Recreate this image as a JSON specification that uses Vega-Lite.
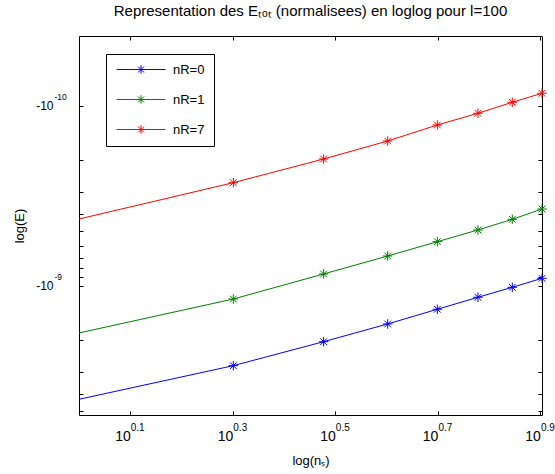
{
  "$schema": "https://vega.github.io/schema/vega-lite/v6.json",
  "width": 463,
  "height": 379,
  "autosize": {"type": "none"},
  "padding": {"left": 79, "top": 36, "right": 13, "bottom": 59},
  "background": "white",
  "title": {
    "text": "Representation des Eₜₒₜ (normalisees) en loglog pour l=100",
    "font": "Liberation Sans",
    "fontSize": 15,
    "fontWeight": "normal",
    "color": "black",
    "anchor": "middle",
    "baseline": "alphabetic",
    "offset": 5
  },
  "config": {
    "view": {"stroke": "black", "strokeWidth": 1},
    "axis": {
      "grid": false,
      "domain": false,
      "labelFont": "Liberation Sans",
      "titleFont": "Liberation Sans",
      "labelColor": "black",
      "titleColor": "black",
      "tickColor": "black",
      "titleFontWeight": "normal",
      "labelFlush": false,
      "labelOverlap": false,
      "labelBound": false
    }
  },
  "data": {
    "values": [
      {"series": "nR=0", "n_s": 1, "E": -4.278e-9},
      {"series": "nR=0", "n_s": 2, "E": -2.782e-9},
      {"series": "nR=0", "n_s": 3, "E": -2.047e-9},
      {"series": "nR=0", "n_s": 4, "E": -1.632e-9},
      {"series": "nR=0", "n_s": 5, "E": -1.352e-9},
      {"series": "nR=0", "n_s": 6, "E": -1.160e-9},
      {"series": "nR=0", "n_s": 7, "E": -1.021e-9},
      {"series": "nR=0", "n_s": 8, "E": -9.10e-10},
      {"series": "nR=1", "n_s": 1, "E": -1.831e-9},
      {"series": "nR=1", "n_s": 2, "E": -1.186e-9},
      {"series": "nR=1", "n_s": 3, "E": -8.61e-10},
      {"series": "nR=1", "n_s": 4, "E": -6.84e-10},
      {"series": "nR=1", "n_s": 5, "E": -5.695e-10},
      {"series": "nR=1", "n_s": 6, "E": -4.904e-10},
      {"series": "nR=1", "n_s": 7, "E": -4.278e-10},
      {"series": "nR=1", "n_s": 8, "E": -3.749e-10},
      {"series": "nR=7", "n_s": 1, "E": -4.262e-10},
      {"series": "nR=7", "n_s": 2, "E": -2.678e-10},
      {"series": "nR=7", "n_s": 3, "E": -1.978e-10},
      {"series": "nR=7", "n_s": 4, "E": -1.571e-10},
      {"series": "nR=7", "n_s": 5, "E": -1.280e-10},
      {"series": "nR=7", "n_s": 6, "E": -1.102e-10},
      {"series": "nR=7", "n_s": 7, "E": -9.57e-11},
      {"series": "nR=7", "n_s": 8, "E": -8.53e-11}
    ]
  },
  "layer": [
    {
      "mark": {"type": "line", "strokeWidth": 1, "clip": false},
      "encoding": {
        "x": {
          "field": "n_s", "type": "quantitative",
          "scale": {"type": "log", "domain": [1, 8], "nice": false},
          "axis": {
            "orient": "bottom",
            "values": [1.2589254, 1.9952623, 3.1622777, 5.0118723, 7.9432823],
            "labelExpr": "'10'",
            "tickSize": -4,
            "labelPadding": 29,
            "labelAlign": "right",
            "labelBaseline": "alphabetic",
            "labelFontSize": 14,
            "title": "log(nₛ)",
            "titleFontSize": 13,
            "titleY": 49,
            "titleBaseline": "alphabetic"
          }
        },
        "y": {
          "field": "E", "type": "quantitative",
          "scale": {"type": "log", "domain": [-5.23e-9, -4.1e-11], "nice": false},
          "axis": {
            "orient": "left",
            "values": [-1e-10, -2e-10, -3e-10, -4e-10, -5e-10, -6e-10, -7e-10, -8e-10, -9e-10, -1e-9, -2e-9, -3e-9, -4e-9, -5e-9],
            "labelExpr": "abs(log(-datum.value)/LN10 - round(log(-datum.value)/LN10)) < 0.001 ? '-10' : ''",
            "tickSize": -4,
            "labelPadding": 30,
            "labelAlign": "right",
            "labelBaseline": "middle",
            "labelOffset": 0,
            "labelFontSize": 12,
            "title": "log(E)",
            "titleFontSize": 13,
            "titleX": -56,
            "titleBaseline": "alphabetic"
          }
        },
        "color": {
          "field": "series", "type": "nominal",
          "scale": {"domain": ["nR=0", "nR=1", "nR=7"], "range": ["#0000ff", "#008000", "#ff0000"]},
          "legend": {
            "title": null,
            "orient": "none",
            "legendX": 27,
            "legendY": 18,
            "direction": "vertical",
            "strokeColor": "black",
            "fillColor": "white",
            "padding": 9,
            "cornerRadius": 0,
            "symbolType": "M-4.9,0H4.9M0,-0.85V0.85M-0.85,0H0.85M-0.6,-0.6L0.6,0.6M-0.6,0.6L0.6,-0.6",
            "symbolSize": 100,
            "symbolOffset": 19.5,
            "symbolStrokeWidth": 1,
            "symbolFillColor": "transparent",
            "labelFont": "Liberation Sans",
            "labelFontSize": 13,
            "labelColor": "black",
            "labelOffset": 25.5,
            "rowPadding": 16
          }
        }
      }
    },
    {
      "transform": [{"filter": "datum.n_s > 1"}],
      "mark": {
        "type": "point",
        "shape": "M-1,0L1,0M0,-1L0,1M-0.7,-0.7L0.7,0.7M-0.7,0.7L0.7,-0.7",
        "filled": false,
        "size": 90,
        "strokeWidth": 1,
        "opacity": 1,
        "clip": false
      },
      "encoding": {
        "x": {
          "field": "n_s", "type": "quantitative",
          "scale": {"type": "log", "domain": [1, 8], "nice": false},
          "axis": {
            "orient": "bottom",
            "values": [1.2589254, 1.9952623, 3.1622777, 5.0118723, 7.9432823],
            "labelExpr": "format(log(datum.value)/LN10, '.1f')",
            "ticks": false,
            "labelPadding": 15,
            "labelAlign": "left",
            "labelDx": 1,
            "labelBaseline": "alphabetic",
            "labelFontSize": 10,
            "title": null
          }
        },
        "y": {
          "field": "E", "type": "quantitative",
          "scale": {"type": "log", "domain": [-5.23e-9, -4.1e-11], "nice": false},
          "axis": {
            "orient": "left",
            "values": [-1e-10, -1e-9],
            "labelExpr": "'' + round(log(-datum.value)/LN10)",
            "ticks": false,
            "labelPadding": 25,
            "labelAlign": "left",
            "labelBaseline": "middle",
            "labelOffset": -9.5,
            "labelFontSize": 8.5,
            "title": null
          }
        },
        "color": {"field": "series", "type": "nominal", "legend": null}
      }
    },
    {
      "mark": {"type": "point", "opacity": 0},
      "encoding": {
        "x": {
          "field": "n_s", "type": "quantitative",
          "scale": {"type": "log", "domain": [1, 8], "nice": false},
          "axis": {
            "orient": "top",
            "values": [1.2589254, 1.9952623, 3.1622777, 5.0118723, 7.9432823],
            "labels": false,
            "tickSize": -4,
            "title": null
          }
        },
        "y": {
          "field": "E", "type": "quantitative",
          "scale": {"type": "log", "domain": [-5.23e-9, -4.1e-11], "nice": false},
          "axis": {
            "orient": "right",
            "values": [-1e-10, -2e-10, -3e-10, -4e-10, -5e-10, -6e-10, -7e-10, -8e-10, -9e-10, -1e-9, -2e-9, -3e-9, -4e-9, -5e-9],
            "labels": false,
            "tickSize": -4,
            "title": null
          }
        }
      }
    }
  ],
  "resolve": {"axis": {"x": "independent", "y": "independent"}}
}
